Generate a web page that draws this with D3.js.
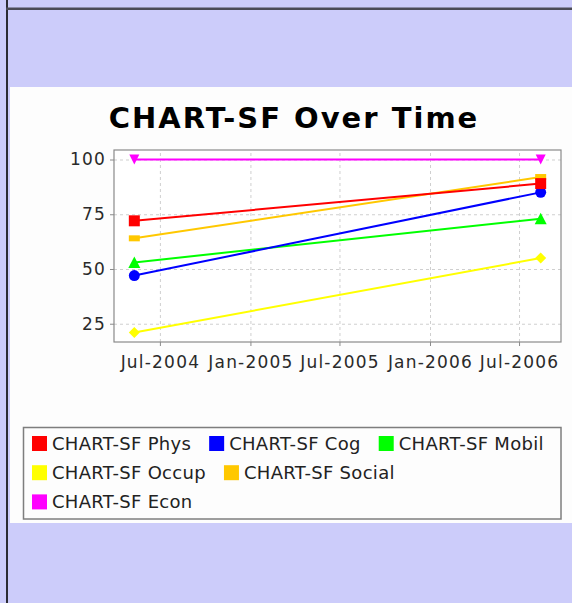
<!DOCTYPE html>
<html>
<head>
<meta charset="utf-8">
<script src="https://cdn.jsdelivr.net/npm/d3@7"></script>
<style>
  html, body { margin: 0; padding: 0; background: #ccccfa; }
  svg { display: block; }
  text { font-family: "DejaVu Sans", sans-serif; }
</style>
</head>
<body>
<svg id="chart" width="572" height="603"></svg>
<script>
// data
const seriesNames = ["CHART-SF Phys", "CHART-SF Cog", "CHART-SF Mobil", "CHART-SF Occup", "CHART-SF Social", "CHART-SF Econ"];
const visitDates = ["2004-05-10", "2006-08-14"];
const physValues = [72, 89];
const cogValues = [47, 85];
const mobilValues = [53, 73];
const occupValues = [21, 55];
const socialValues = [64, 92];
const econValues = [100, 100];
const yTickValues = [25, 50, 75, 100];
const titleText = "CHART-SF Over Time";

// jfreechart default paints / shapes
const palette = ["#ff0000", "#0000ff", "#00ff00", "#ffff00", "#ffc800", "#ff00ff"];
const shapes = ["square", "circle", "up", "diamond", "flat", "down"];

const parseDate = d3.timeParse("%Y-%m-%d");
const dates = visitDates.map(parseDate);
const allValues = [physValues, cogValues, mobilValues, occupValues, socialValues, econValues];

const series = seriesNames.map((name, i) => ({
    name: name,
    color: palette[i],
    shape: shapes[i],
    points: dates.map((d, j) => ({ date: d, value: allValues[i][j] }))
}));

const svg = d3.select("#chart");
const W = 572, H = 603;

// page frame
svg.append("rect").attr("width", W).attr("height", H).attr("fill", "#ccccfa");
svg.append("rect").attr("x", 6).attr("y", 0).attr("width", 2).attr("height", H).attr("fill", "#2c2c34");
svg.append("rect").attr("x", 6).attr("y", 7.5).attr("width", W - 6).attr("height", 2.5).attr("fill", "#4a4a56");
svg.append("rect").attr("x", 10).attr("y", 87).attr("width", W - 10).attr("height", 436).attr("fill", "#fdfdfd");

// title
svg.append("text")
    .attr("x", 294)
    .attr("y", 128)
    .attr("text-anchor", "middle")
    .attr("font-size", 29)
    .attr("font-weight", "bold")
    .attr("letter-spacing", 2)
    .attr("fill", "#000")
    .text(titleText);

const plot = { left: 114, top: 150, right: 561, bottom: 342 };

const t0 = dates[0].getTime(), t1 = dates[dates.length - 1].getTime();
const tPad = (t1 - t0) * 0.05;
const x = d3.scaleTime()
    .domain([new Date(t0 - tPad), new Date(t1 + tPad)])
    .range([plot.left, plot.right]);

const vMin = d3.min(allValues, a => d3.min(a)), vMax = d3.max(allValues, a => d3.max(a));
const vPad = (vMax - vMin) * 0.055;
const y = d3.scaleLinear()
    .domain([vMin - vPad, vMax + vPad])
    .range([plot.bottom, plot.top]);

const ph = plot.bottom - plot.top, pw = plot.right - plot.left;

svg.append("rect")
    .attr("x", plot.left).attr("y", plot.top)
    .attr("width", pw).attr("height", ph)
    .attr("fill", "#ffffff");

// grid
svg.append("g")
    .attr("transform", `translate(0,${plot.bottom})`)
    .call(d3.axisBottom(x).ticks(d3.timeMonth.every(6)).tickSize(-ph).tickFormat(""))
    .call(g => g.select(".domain").remove())
    .selectAll("line")
    .attr("stroke", "#cfcfcf")
    .attr("stroke-dasharray", "3,3");

svg.append("g")
    .attr("transform", `translate(${plot.left},0)`)
    .call(d3.axisLeft(y).tickValues(yTickValues).tickSize(-pw).tickFormat(""))
    .call(g => g.select(".domain").remove())
    .selectAll("line")
    .attr("stroke", "#cfcfcf")
    .attr("stroke-dasharray", "3,3");

// axes
const xAxis = svg.append("g")
    .attr("transform", `translate(0,${plot.bottom})`)
    .call(d3.axisBottom(x)
        .ticks(d3.timeMonth.every(6))
        .tickFormat(d3.timeFormat("%b-%Y"))
        .tickSize(4)
        .tickPadding(10)
        .tickSizeOuter(0));

const yAxis = svg.append("g")
    .attr("transform", `translate(${plot.left},0)`)
    .call(d3.axisLeft(y)
        .tickValues(yTickValues)
        .tickSize(4)
        .tickPadding(4)
        .tickSizeOuter(0));

[xAxis, yAxis].forEach(a => {
    a.select(".domain").remove();
    a.selectAll(".tick line").attr("stroke", "#8a8a8a");
    a.selectAll(".tick text")
        .attr("font-family", "DejaVu Sans")
        .attr("font-size", 17)
        .attr("letter-spacing", 1.2)
        .attr("fill", "#2a2a2a");
});

svg.append("rect")
    .attr("x", plot.left).attr("y", plot.top)
    .attr("width", pw).attr("height", ph)
    .attr("fill", "none")
    .attr("stroke", "#8a8a8a")
    .attr("stroke-width", 1.2);

// marker shapes
function shapePath(kind) {
    switch (kind) {
        case "square": return "M-5.5,-5.5h11v11h-11Z";
        case "circle": return d3.symbol(d3.symbolCircle, Math.PI * 30)();
        case "up": return "M0,-6L6,5.5L-6,5.5Z";
        case "diamond": return "M0,-5.5L5.5,0L0,5.5L-5.5,0Z";
        case "flat": return "M-5.5,-3h11v6h-11Z";
        case "down": return "M-5,-5L5,-5L0,5Z";
    }
}

const line = d3.line()
    .x(d => x(d.date))
    .y(d => y(d.value));

// later series underneath, like jfreechart
const seriesG = svg.append("g")
    .selectAll("g")
    .data(series.slice().reverse())
    .enter().append("g");

seriesG.append("path")
    .attr("d", d => line(d.points))
    .attr("fill", "none")
    .attr("stroke", d => d.color)
    .attr("stroke-width", 2);

seriesG.selectAll(".marker")
    .data(d => d.points.map(p => ({ p: p, s: d })))
    .enter().append("path")
    .attr("class", "marker")
    .attr("transform", d => `translate(${x(d.p.date)},${y(d.p.value)})`)
    .attr("d", d => shapePath(d.s.shape))
    .attr("fill", d => d.s.color);

// legend, flowed into rows
const legendBox = { left: 23.5, top: 427.5, width: 537.5, height: 91.5 };
svg.append("rect")
    .attr("x", legendBox.left).attr("y", legendBox.top)
    .attr("width", legendBox.width).attr("height", legendBox.height)
    .attr("fill", "#fdfdfd")
    .attr("stroke", "#7e7e7e")
    .attr("stroke-width", 1.5);

const legend = svg.append("g");
let lx = 32, row = 0;
const rowY = d => 443.5 + d * 29.2;
const maxX = 553;

series.forEach(s => {
    const item = legend.append("g");
    const label = item.append("text")
        .attr("x", 20)
        .attr("y", 6.5)
        .attr("font-size", 18)
        .attr("letter-spacing", 0.3)
        .attr("fill", "#222")
        .text(s.name);
    const w = 20 + label.node().getComputedTextLength();
    if (lx + w > maxX) {
        lx = 32;
        row += 1;
    }
    item.attr("transform", `translate(${lx},${rowY(row)})`);
    item.insert("rect", "text")
        .attr("x", 0).attr("y", -7.5)
        .attr("width", 15).attr("height", 15)
        .attr("fill", s.color);
    lx += w + 18;
});
</script>
</body>
</html>
